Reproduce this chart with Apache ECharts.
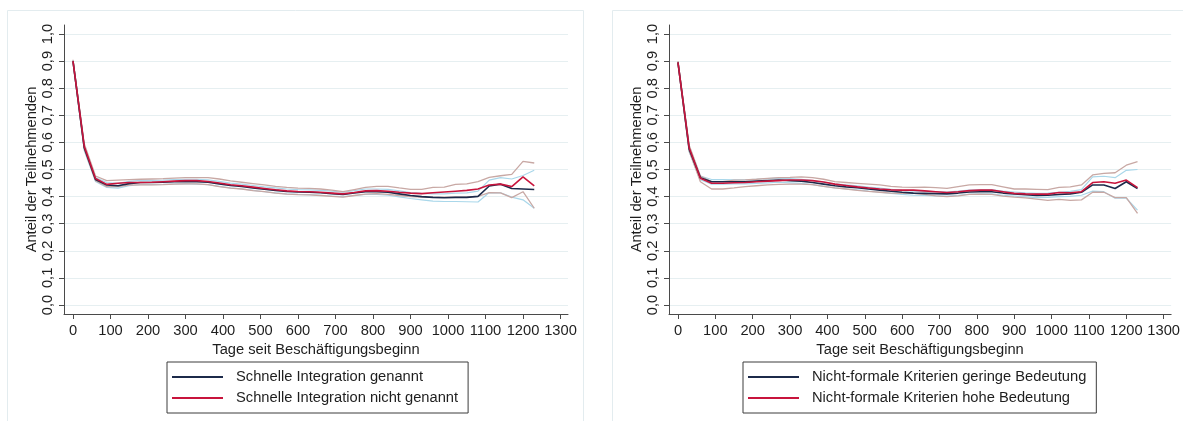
<!DOCTYPE html>
<html>
<head>
<meta charset="utf-8">
<script src="https://cdn.jsdelivr.net/npm/echarts@6/dist/echarts.min.js"></script>
<style>
html,body{margin:0;padding:0;background:#fff;}
#chart{width:1183px;height:421px;}
</style>
</head>
<body>
<div id="chart"></div>
<script>
// x values (days since start of employment)
const days = [0,30,60,90,120,150,180,210,240,270,300,330,360,390,420,450,480,510,540,570,600,630,660,690,720,750,780,810,840,870,900,930,960,990,1020,1050,1080,1110,1140,1170,1200,1230];
const xTicks = [0,100,200,300,400,500,600,700,800,900,1000,1100,1200,1300];
const yTicks = [0,0.1,0.2,0.3,0.4,0.5,0.6,0.7,0.8,0.9,1.0];

// Left panel
const leftNames = ['Schnelle Integration genannt','Schnelle Integration nicht genannt'];
const leftNavy = [0.900,0.580,0.463,0.443,0.440,0.448,0.452,0.452,0.453,0.455,0.456,0.455,0.453,0.447,0.441,0.437,0.432,0.427,0.423,0.419,0.417,0.416,0.414,0.411,0.408,0.413,0.418,0.418,0.416,0.410,0.404,0.400,0.397,0.396,0.397,0.397,0.401,0.439,0.446,0.430,0.428,0.426];
const leftRed = [0.900,0.585,0.467,0.445,0.449,0.452,0.452,0.453,0.455,0.457,0.459,0.459,0.456,0.450,0.444,0.440,0.435,0.430,0.425,0.421,0.419,0.418,0.416,0.413,0.410,0.415,0.421,0.422,0.420,0.416,0.413,0.411,0.414,0.417,0.420,0.423,0.428,0.443,0.446,0.437,0.473,0.440];
const leftNavyHi = [0.904,0.590,0.470,0.452,0.449,0.456,0.460,0.460,0.461,0.463,0.464,0.464,0.462,0.456,0.450,0.446,0.441,0.436,0.432,0.428,0.426,0.425,0.423,0.420,0.416,0.422,0.428,0.428,0.427,0.421,0.415,0.412,0.410,0.410,0.413,0.414,0.420,0.461,0.470,0.465,0.478,0.497];
const leftNavyLo = [0.896,0.570,0.456,0.434,0.431,0.440,0.444,0.444,0.445,0.447,0.448,0.446,0.444,0.438,0.432,0.428,0.423,0.418,0.414,0.410,0.408,0.407,0.405,0.402,0.400,0.404,0.408,0.408,0.405,0.399,0.393,0.388,0.383,0.382,0.382,0.381,0.380,0.415,0.414,0.398,0.388,0.357];
const leftRedHi = [0.905,0.595,0.476,0.459,0.461,0.463,0.464,0.465,0.466,0.468,0.470,0.470,0.470,0.465,0.458,0.453,0.448,0.443,0.438,0.434,0.431,0.430,0.428,0.424,0.418,0.426,0.434,0.438,0.438,0.432,0.427,0.427,0.434,0.435,0.445,0.447,0.455,0.471,0.477,0.482,0.530,0.524];
const leftRedLo = [0.895,0.575,0.459,0.437,0.437,0.442,0.443,0.443,0.444,0.446,0.447,0.447,0.444,0.437,0.431,0.428,0.422,0.418,0.413,0.409,0.407,0.406,0.404,0.401,0.398,0.404,0.409,0.411,0.408,0.404,0.400,0.398,0.397,0.398,0.398,0.399,0.401,0.415,0.414,0.396,0.418,0.357];

// Right panel
const rightNames = ['Nicht-formale Kriterien geringe Bedeutung','Nicht-formale Kriterien hohe Bedeutung'];
const rightNavy = [0.895,0.575,0.470,0.455,0.455,0.455,0.455,0.457,0.459,0.461,0.459,0.457,0.452,0.446,0.440,0.436,0.433,0.428,0.424,0.420,0.416,0.413,0.412,0.411,0.410,0.413,0.417,0.418,0.418,0.413,0.410,0.407,0.404,0.405,0.408,0.410,0.416,0.443,0.443,0.430,0.455,0.430];
const rightRed = [0.895,0.580,0.468,0.449,0.449,0.451,0.452,0.455,0.457,0.459,0.461,0.461,0.459,0.454,0.446,0.441,0.436,0.432,0.428,0.425,0.424,0.424,0.421,0.418,0.415,0.418,0.422,0.424,0.424,0.418,0.412,0.410,0.409,0.409,0.415,0.414,0.418,0.452,0.455,0.449,0.461,0.433];
const rightNavyHi = [0.898,0.585,0.476,0.463,0.463,0.462,0.462,0.464,0.466,0.468,0.466,0.464,0.459,0.453,0.447,0.443,0.440,0.435,0.431,0.427,0.423,0.420,0.419,0.418,0.417,0.420,0.424,0.425,0.425,0.420,0.417,0.414,0.412,0.413,0.416,0.419,0.426,0.473,0.475,0.470,0.497,0.500];
const rightNavyLo = [0.892,0.565,0.462,0.446,0.446,0.447,0.447,0.449,0.451,0.453,0.451,0.449,0.444,0.438,0.432,0.428,0.425,0.420,0.416,0.412,0.408,0.405,0.404,0.403,0.402,0.405,0.409,0.410,0.410,0.405,0.402,0.399,0.396,0.397,0.400,0.401,0.405,0.420,0.418,0.394,0.394,0.350];
const rightRedHi = [0.900,0.590,0.476,0.455,0.455,0.461,0.462,0.464,0.467,0.470,0.471,0.473,0.470,0.464,0.455,0.452,0.449,0.446,0.443,0.438,0.435,0.434,0.435,0.433,0.430,0.437,0.443,0.444,0.444,0.436,0.428,0.428,0.427,0.426,0.434,0.436,0.443,0.480,0.486,0.488,0.516,0.529];
const rightRedLo = [0.890,0.568,0.455,0.428,0.428,0.432,0.437,0.440,0.443,0.445,0.446,0.446,0.444,0.438,0.432,0.428,0.423,0.419,0.416,0.413,0.412,0.412,0.408,0.403,0.400,0.403,0.408,0.409,0.408,0.402,0.398,0.395,0.391,0.386,0.390,0.386,0.388,0.416,0.416,0.396,0.396,0.338];

const xTitle = 'Tage seit Beschäftigungsbeginn';
const yTitle = 'Anteil der Teilnehmenden';

const NAVY = '#1c2a4a', RED = '#c8143c', LBLUE = '#a9d7ea', BROWN = '#c8a8a4';
const FONT = 'Liberation Sans, Arial, sans-serif';
const FS = 14.7;
const TXT = '#1e1e1e', AX = '#4a4a4a', GRIDC = '#e6eff1';

function pairs(arr){ return days.map((d,i)=>[d, arr[i]]); }

function xAxisCfg(gi){
  return {
    gridIndex: gi, type:'value', min:-24, max:1320,
    axisLine:{show:true, onZero:false, lineStyle:{color:AX, width:1}},
    axisTick:{show:true, length:5, customValues:xTicks, lineStyle:{color:AX}},
    axisLabel:{customValues:xTicks, fontSize:FS, color:TXT, fontFamily:FONT, margin:9,
      formatter:v=>String(Math.round(v))},
    splitLine:{show:false},
    name:xTitle, nameLocation:'middle', nameGap:25,
    nameTextStyle:{fontSize:FS, color:TXT, fontFamily:FONT}
  };
}
function yAxisCfg(gi){
  return {
    gridIndex: gi, type:'value', min:-0.0332, max:1.0332,
    axisLine:{show:true, onZero:false, lineStyle:{color:AX, width:1}},
    axisTick:{show:true, length:5, customValues:yTicks, lineStyle:{color:AX}},
    axisLabel:{customValues:yTicks, rotate:90, fontSize:FS, color:TXT, fontFamily:FONT, margin:9,
      formatter:v=>v.toFixed(1).replace('.',',')},
    splitLine:{show:true, lineStyle:{color:GRIDC, width:1}},
    name:yTitle, nameLocation:'middle', nameGap:24,
    nameTextStyle:{fontSize:FS, color:TXT, fontFamily:FONT}
  };
}
function line(name, arr, color, w, gi, z){
  return {name, type:'line', xAxisIndex:gi, yAxisIndex:gi, data:pairs(arr), symbol:'none',
    lineStyle:{color, width:w}, itemStyle:{color}, z, silent:true, animation:false};
}
function legendCfg(names, left){
  return {
    data:names, orient:'vertical', left, top:362, itemWidth:51, itemHeight:2, itemGap:5,
    icon:'rect', padding:[7,10,7,5], borderColor:'#3c3c3c', borderWidth:1,
    textStyle:{fontSize:FS, color:TXT, fontFamily:FONT, lineHeight:16, padding:[0,0,0,8]},
    selectedMode:false
  };
}

const chart = echarts.init(document.getElementById('chart'), null, {renderer:'canvas'});
chart.setOption({
  backgroundColor:'#fff',
  animation:false,
  graphic:[
    {type:'rect', shape:{x:7.5,y:10.5,width:576,height:420}, style:{fill:'none', stroke:'#e3ecef', lineWidth:1}, silent:true, z:-1},
    {type:'rect', shape:{x:612.5,y:10.5,width:576,height:420}, style:{fill:'none', stroke:'#e3ecef', lineWidth:1}, silent:true, z:-1}
  ],
  grid:[
    {left:64, top:25, width:504, height:289},
    {left:669, top:25, width:505, height:289}
  ],
  xAxis:[xAxisCfg(0), xAxisCfg(1)],
  yAxis:[yAxisCfg(0), yAxisCfg(1)],
  legend:[legendCfg(leftNames,167), legendCfg(rightNames,743)],
  series:[
    line('L navy hi', leftNavyHi, LBLUE, 1.2, 0, 1),
    line('L navy lo', leftNavyLo, LBLUE, 1.2, 0, 1),
    line('L red hi', leftRedHi, BROWN, 1.3, 0, 2),
    line('L red lo', leftRedLo, BROWN, 1.3, 0, 2),
    line(leftNames[0], leftNavy, NAVY, 1.6, 0, 3),
    line(leftNames[1], leftRed, RED, 1.6, 0, 4),
    line('R navy hi', rightNavyHi, LBLUE, 1.2, 1, 1),
    line('R navy lo', rightNavyLo, LBLUE, 1.2, 1, 1),
    line('R red hi', rightRedHi, BROWN, 1.3, 1, 2),
    line('R red lo', rightRedLo, BROWN, 1.3, 1, 2),
    line(rightNames[0], rightNavy, NAVY, 1.6, 1, 3),
    line(rightNames[1], rightRed, RED, 1.6, 1, 4)
  ]
});
</script>
</body>
</html>
